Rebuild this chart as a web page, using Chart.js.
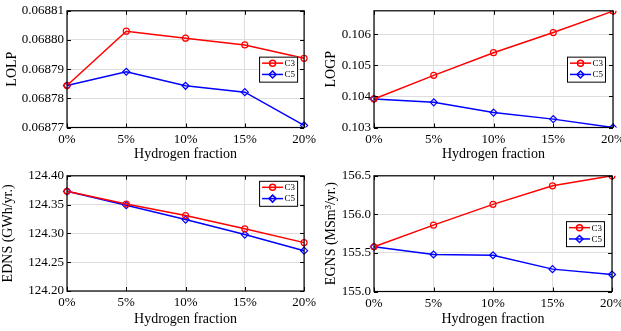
<!DOCTYPE html>
<html>
<head>
<meta charset="utf-8">
<script src="https://cdn.jsdelivr.net/npm/chart.js@4.4.0/dist/chart.umd.min.js"></script>
<style>
  html, body { margin: 0; padding: 0; background: #fff; overflow: hidden; width: 621px; height: 331px; }
  canvas { position: absolute; }
</style>
</head>
<body>
<canvas id="lolp" width="320" height="165" style="left:0;top:0"></canvas>
<canvas id="logp" width="320" height="165" style="left:310px;top:0"></canvas>
<canvas id="edns" width="320" height="166" style="left:0;top:165px"></canvas>
<canvas id="egns" width="320" height="166" style="left:310px;top:165px"></canvas>
<script>
const fractions = ["0%", "5%", "10%", "15%", "20%"];

const lolpC3 = [0.0687844, 0.068803, 0.0688006, 0.0687983, 0.0687937];
const lolpC5 = [0.0687844, 0.0687891, 0.0687843, 0.0687821, 0.0687707];
const logpC3 = [0.10392, 0.10468, 0.10541, 0.10606, 0.10675];
const logpC5 = [0.10392, 0.10381, 0.10348, 0.10327, 0.103];
const ednsC3 = [124.373, 124.351, 124.331, 124.308, 124.284];
const ednsC5 = [124.373, 124.349, 124.324, 124.298, 124.27];
const egnsC3 = [155.58, 155.86, 156.13, 156.37, 156.5];
const egnsC5 = [155.58, 155.48, 155.47, 155.29, 155.22];

const lolpTicks = [0.06877, 0.06878, 0.06879, 0.0688, 0.06881];
const logpTicks = [0.103, 0.104, 0.105, 0.106];
const ednsTicks = [124.2, 124.25, 124.3, 124.35, 124.4];
const egnsTicks = [155, 155.5, 156, 156.5];

const serif = "'Liberation Serif', 'Times New Roman', serif";

// box round the axes plus inward tick marks, like matlab
const axesBox = {
  id: "axesBox",
  afterDraw(chart) {
    const { ctx, chartArea: a, scales } = chart;
    ctx.save();
    ctx.strokeStyle = "#000";
    ctx.lineWidth = 1;
    const tl = 4;
    ctx.beginPath();
    scales.x.ticks.forEach((t, i) => {
      const px = Math.round(scales.x.getPixelForTick(i)) + 0.5;
      ctx.moveTo(px, a.bottom); ctx.lineTo(px, a.bottom - tl);
      ctx.moveTo(px, a.top); ctx.lineTo(px, a.top + tl);
    });
    scales.y.ticks.forEach((t, i) => {
      const py = Math.round(scales.y.getPixelForTick(i)) + 0.5;
      ctx.moveTo(a.left, py); ctx.lineTo(a.left + tl, py);
      ctx.moveTo(a.right, py); ctx.lineTo(a.right - tl, py);
    });
    ctx.stroke();
    ctx.lineWidth = 1.2;
    ctx.strokeRect(a.left, a.top, a.right - a.left, a.bottom - a.top);
    ctx.restore();
  }
};

// legend drawn inside the axes
const boxLegend = {
  id: "boxLegend",
  afterDraw(chart, args, opts) {
    const { ctx, chartArea: a } = chart;
    const w = 38, h = 25;
    const x = a.right - opts.inset - w;
    const y = opts.loc === "northeast" ? a.top + 5 : (a.top + a.bottom) / 2 - h / 2;
    ctx.save();
    ctx.fillStyle = "#fff";
    ctx.fillRect(x, y, w, h);
    ctx.strokeStyle = "#000";
    ctx.lineWidth = 1;
    ctx.strokeRect(x + 0.5, y + 0.5, w, h);
    chart.data.datasets.forEach((ds, i) => {
      const cy = y + 6.5 + i * 11.3;
      ctx.strokeStyle = ds.borderColor;
      ctx.lineWidth = 1.5;
      ctx.beginPath();
      ctx.moveTo(x + 3, cy);
      ctx.lineTo(x + 24, cy);
      ctx.stroke();
      ctx.fillStyle = "rgba(0,0,0,0)";
      Chart.helpers.drawPoint(ctx, { pointStyle: ds.pointStyle, radius: ds.pointRadius, borderWidth: ds.pointBorderWidth, rotation: 0 }, x + 13.5, cy);
      ctx.fillStyle = "#000";
      ctx.font = "9px " + serif;
      ctx.textBaseline = "middle";
      ctx.fillText(ds.label, x + 25.5, cy + 0.5);
    });
    ctx.restore();
  }
};

const makeChart = (id, c3, c5, ticks, yMin, yMax, digits, yTitle, p) => {
  const canvas = document.getElementById(id);
  return new Chart(canvas, {
    type: "line",
    data: {
      labels: fractions,
      datasets: [
        {
          label: "C3",
          data: c3,
          borderColor: "#ff0000",
          backgroundColor: "rgba(0,0,0,0)",
          borderWidth: 1.5,
          pointStyle: "circle",
          pointRadius: 3,
          pointBorderWidth: 1.2,
          tension: 0,
        },
        {
          label: "C5",
          data: c5,
          borderColor: "#0000ff",
          backgroundColor: "rgba(0,0,0,0)",
          borderWidth: 1.5,
          pointStyle: "rectRot",
          pointRadius: 3.5,
          pointBorderWidth: 1.2,
          tension: 0,
        },
      ],
    },
    options: {
      responsive: false,
      animation: false,
      devicePixelRatio: 1,
      layout: { padding: { left: 0, top: p.top, right: canvas.width - p.right, bottom: 0 } },
      plugins: {
        legend: { display: false },
        tooltip: { enabled: false },
        boxLegend: { loc: p.loc, inset: p.inset },
      },
      scales: {
        x: {
          offset: false,
          grid: { color: "#dedede", drawTicks: false },
          border: { display: false },
          ticks: { color: "#000", padding: 4, maxRotation: 0, autoSkip: false, font: { family: serif, size: 13 } },
          title: { display: true, text: "Hydrogen fraction", color: "#000", padding: { top: 0, bottom: p.xTitlePad }, font: { family: serif, size: 14 } },
          afterFit: (s) => { s.height = canvas.height - p.bottom; },
        },
        y: {
          min: yMin,
          max: yMax,
          grid: { color: "#dedede", drawTicks: false },
          border: { display: false },
          afterBuildTicks: (s) => { s.ticks = ticks.map((v) => ({ value: v })); },
          ticks: {
            color: "#000",
            padding: 3,
            font: { family: serif, size: 13 },
            callback: (v) => Number(v).toFixed(digits),
          },
          title: { display: true, text: yTitle, color: "#000", padding: { top: p.yTitlePad, bottom: 0 }, font: { family: serif, size: 14 } },
          afterFit: (s) => { s.width = p.left; },
        },
      },
    },
    plugins: [axesBox, boxLegend],
  });
};

document.addEventListener("DOMContentLoaded", () => {
  makeChart("lolp", lolpC3, lolpC5, lolpTicks, 0.06877, 0.06881, 5, "LOLP",
    { left: 67, right: 305, top: 10, bottom: 127.5, loc: "east", inset: 7, xTitlePad: 2, yTitlePad: 4 });
  makeChart("logp", logpC3, logpC5, logpTicks, 0.103, 0.10676, 3, "LOGP",
    { left: 64, right: 303, top: 10, bottom: 127.5, loc: "east", inset: 8, xTitlePad: 2, yTitlePad: 13 });
  makeChart("edns", ednsC3, ednsC5, ednsTicks, 124.2, 124.4, 2, "EDNS (GWh/yr.)",
    { left: 67, right: 305, top: 10, bottom: 126, loc: "northeast", inset: 7, xTitlePad: 3, yTitlePad: 0 });
  makeChart("egns", egnsC3, egnsC5, egnsTicks, 155, 156.5, 1, "EGNS (MSm³/yr.)",
    { left: 64, right: 302, top: 9, bottom: 126.5, loc: "east", inset: 8, xTitlePad: 3, yTitlePad: 13 });
});
</script>
</body>
</html>
